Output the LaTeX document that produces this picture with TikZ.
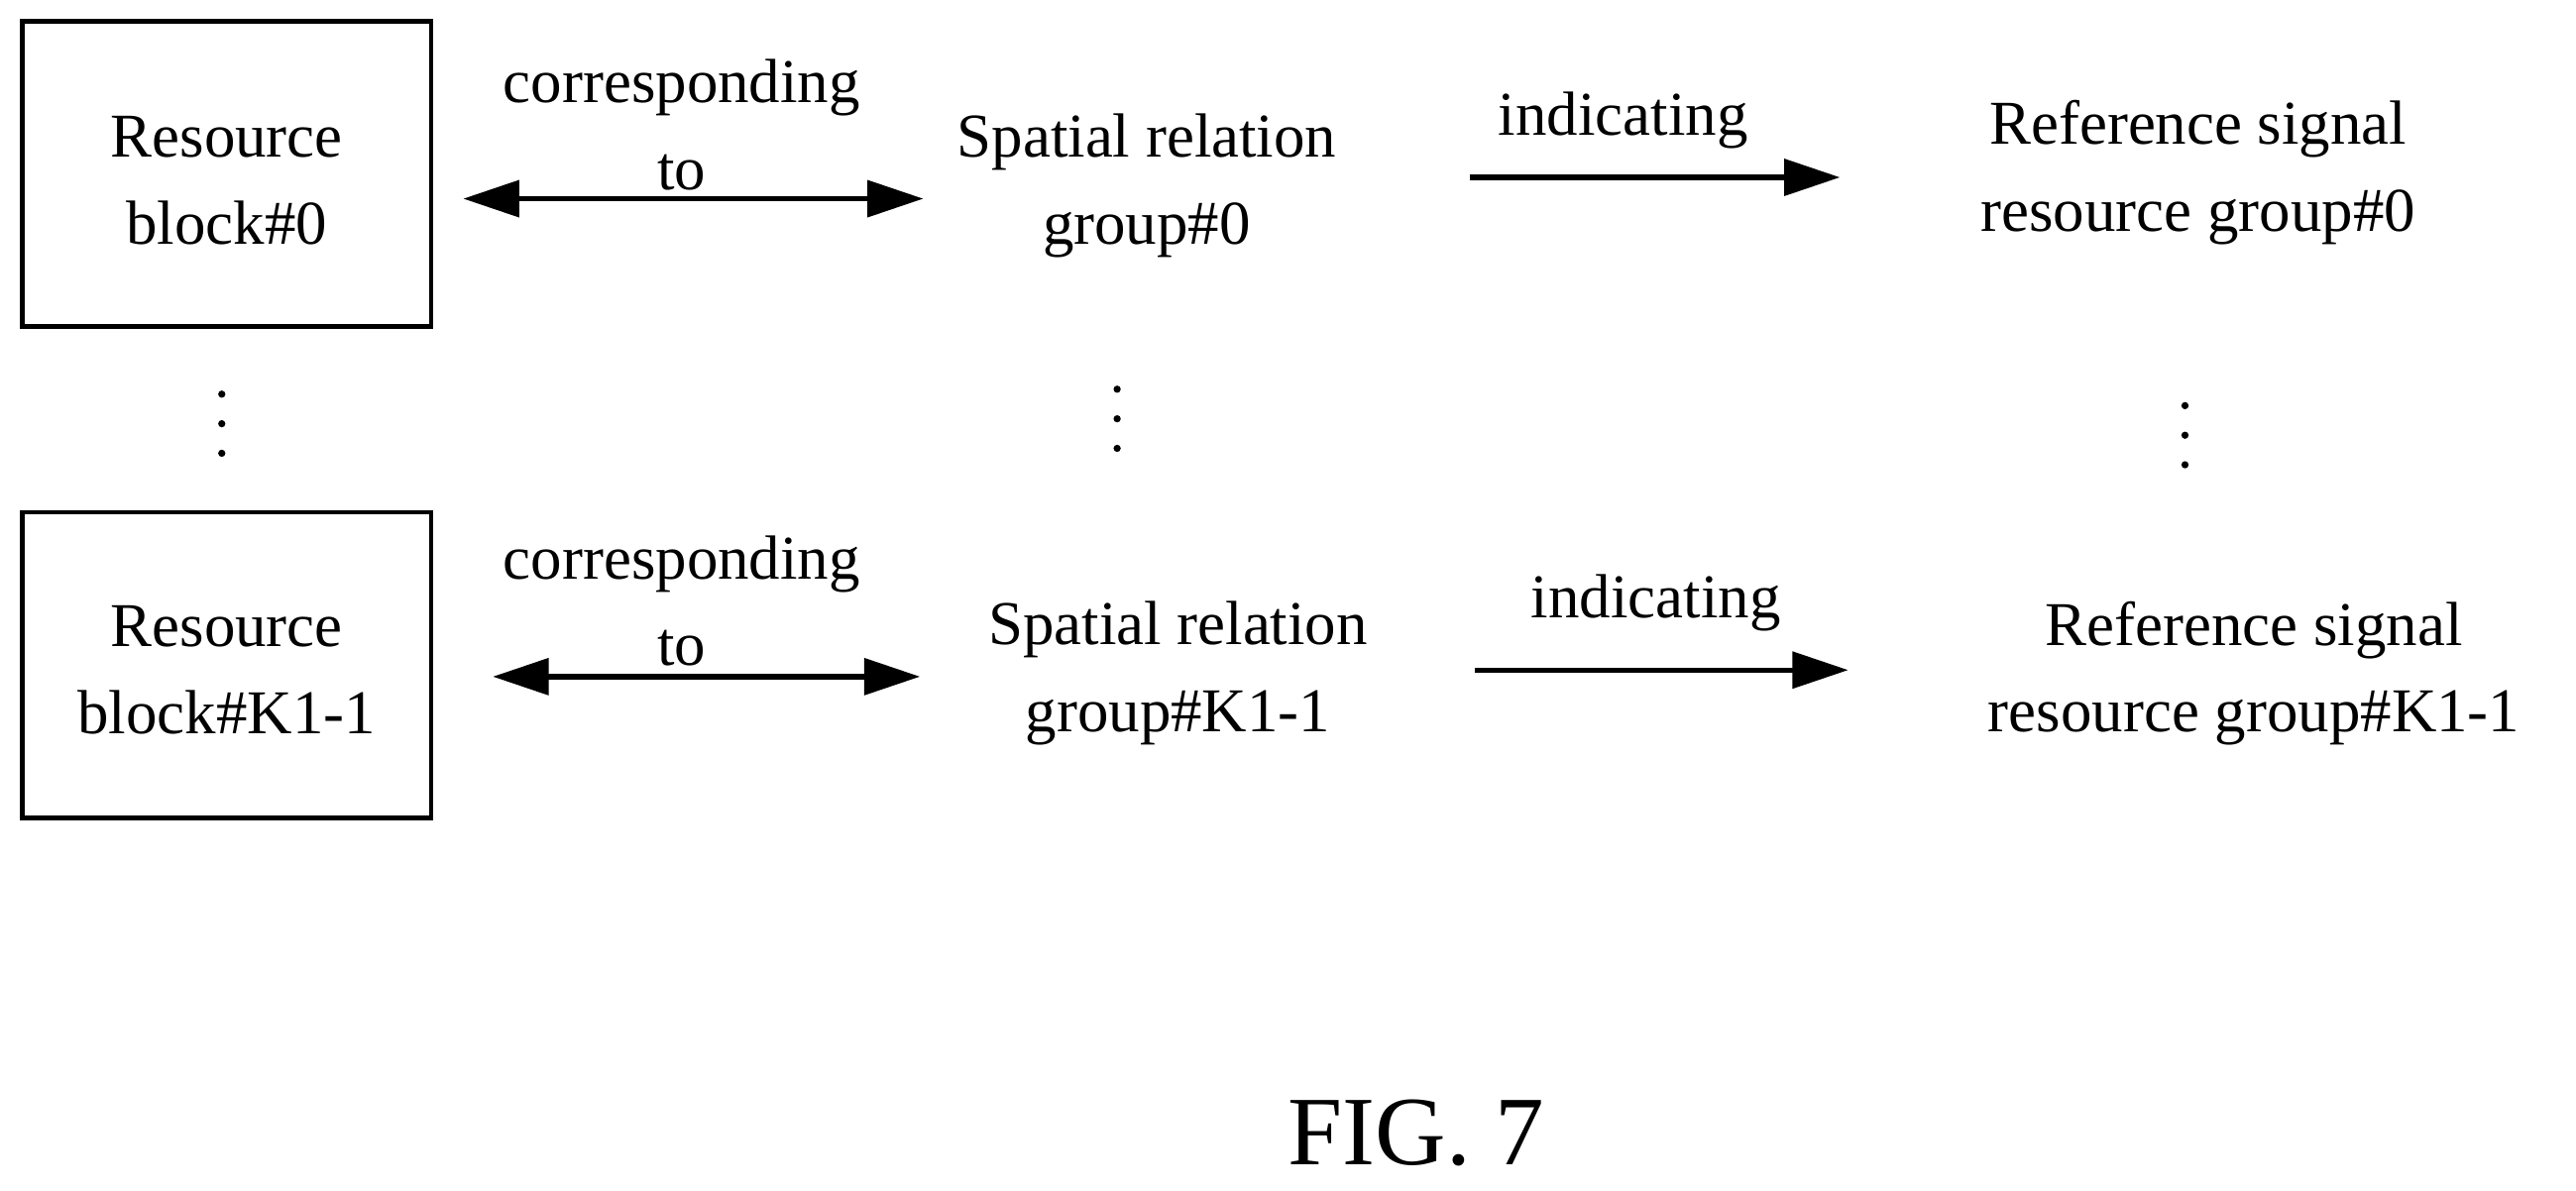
\documentclass[tikz,border=0pt]{standalone}
\usepackage{fontspec}
\setmainfont{Liberation Serif}
\usetikzlibrary{arrows.meta}
\begin{document}
\begin{tikzpicture}[x=0.1mm,y=-0.1mm,
  txt/.style={align=center,font=\fontsize{10.8}{15}\selectfont,inner sep=0pt},
  box/.style={draw,line width=0.8pt,minimum width=24.9mm,minimum height=18.6mm,inner sep=0pt},
  arr/.style={line width=0.9pt,-{Triangle[length=3.4mm,width=2.2mm]}},
  darr/.style={line width=0.9pt,{Triangle[length=3.4mm,width=2.2mm]}-{Triangle[length=3.4mm,width=2.2mm]}}]
\useasboundingbox (0,0) rectangle (1568,725);
\node[box] (b0) at (138,106) {};
\node[txt] (b0t) at (138,110) {Resource\\block\#0};
\node[box] (b1) at (138,405) {};
\node[txt] (b1t) at (138,408) {Resource\\block\#K1-1};
\node[txt] (s0) at (698,113) {Spatial relation\\group\#0};
\node[txt] (s1) at (717,410) {Spatial relation\\group\#K1-1};
\node[txt] (r0) at (1338,105) {Reference signal\\resource group\#0};
\node[txt] (r1) at (1372,410) {Reference signal\\resource group\#K1-1};
\coordinate (a0s) at (282,121); \coordinate (a0e) at (562,121);
\coordinate (a1s) at (300,412); \coordinate (a1e) at (560,412);
\coordinate (i0s) at (895,108); \coordinate (i0e) at (1120,108);
\coordinate (i1s) at (898,408); \coordinate (i1e) at (1125,408);
\draw[darr] (a0s) -- (a0e);
\draw[darr] (a1s) -- (a1e);
\draw[arr] (i0s) -- (i0e);
\draw[arr] (i1s) -- (i1e);
\node[txt] (c0) at (415,76) {corresponding\\to};
\node[txt] (c1) at (415,366) {corresponding\\to};
\node[txt] (l0) at (988,73) {indicating};
\node[txt] (l1) at (1008,367) {indicating};
\foreach \x/\y [count=\i] in {135/240,680/237,1330/247}{
  \foreach \d in {0,18,36} \fill (\x,\y+\d) circle (2.2);
}
\node[txt,font=\fontsize{17}{20}\selectfont] (fig) at (862,690) {FIG. 7};
\end{tikzpicture}
\end{document}
